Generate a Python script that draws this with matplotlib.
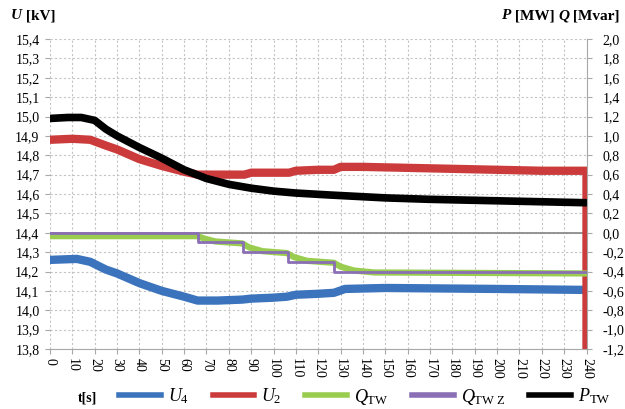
import numpy as np
import matplotlib
matplotlib.use('Agg')
import matplotlib.pyplot as plt
from matplotlib.ticker import FuncFormatter, MultipleLocator

plt.rcParams['font.family'] = ['Liberation Serif', 'DejaVu Serif']
plt.rcParams['mathtext.fontset'] = 'custom'
plt.rcParams['mathtext.rm'] = 'Liberation Serif'
plt.rcParams['mathtext.it'] = 'Liberation Serif:italic'
plt.rcParams['mathtext.bf'] = 'Liberation Serif:bold'

# U4 [kV] - left axis
t_u4 = [0, 12, 18, 25, 30, 40, 50, 60, 66, 75, 86, 90, 100, 106, 110, 120, 127, 132, 150, 200, 240]
u4 = [14.26, 14.265, 14.25, 14.21, 14.19, 14.14, 14.10, 14.07, 14.05, 14.05, 14.055, 14.06,
      14.065, 14.07, 14.08, 14.085, 14.09, 14.11, 14.115, 14.11, 14.105]

# U2 [kV] - left axis (last point drops to the bottom, as in the original)
t_u2 = [0, 10, 18, 25, 30, 40, 50, 60, 66, 80, 87, 90, 100, 107, 110, 120, 127, 130, 140, 160,
        180, 200, 220, 240, 240]
u2 = [14.88, 14.885, 14.88, 14.85, 14.83, 14.78, 14.745, 14.715, 14.70, 14.70, 14.70, 14.71,
      14.71, 14.71, 14.72, 14.725, 14.725, 14.74, 14.74, 14.735, 14.73, 14.725, 14.72, 14.72, 13.8]

# Q_TW [Mvar] - right axis
t_q = [0, 66, 69, 74, 86, 89, 95, 106, 109, 115, 127, 130, 136, 145, 240]
q_tw = [-0.035, -0.035, -0.06, -0.09, -0.11, -0.15, -0.19, -0.21, -0.25, -0.29, -0.31,
        -0.35, -0.39, -0.41, -0.42]

# Q_TW Z [Mvar] - set point steps
t_qz = [0, 66, 86.5, 106.5, 127, 240]
q_twz = [0.0, -0.1, -0.2, -0.3, -0.4, -0.4]

# P_TW [MW] - right axis
t_p = [0, 8, 14, 20, 25, 30, 40, 50, 60, 70, 80, 90, 100, 110, 125, 150, 170, 200, 240]
p_tw = [1.18, 1.19, 1.19, 1.16, 1.07, 1.0, 0.88, 0.77, 0.65, 0.56, 0.50, 0.46, 0.43, 0.41,
        0.39, 0.36, 0.345, 0.33, 0.31]

c_blue = '#3b73bd'
c_red = '#cc3b3b'
c_green = '#9acd4f'
c_purple = '#8a6fb5'
grid_c = '#c4c4c4'
axis_c = '#a8a8a8'

comma = FuncFormatter(lambda v, pos: f'{v:.1f}'.replace('.', ','))

fig = plt.figure(figsize=(6.25, 4.09), dpi=100)
ax = fig.add_axes([0.08, 0.1467, 0.8584, 0.7579])
ax2 = ax.twinx()

ax.set_xlim(0, 240)
ax.set_ylim(13.8, 15.4)
ax2.set_ylim(-1.2, 2.0)
ax.xaxis.set_major_locator(MultipleLocator(10))
ax.yaxis.set_major_locator(MultipleLocator(0.1))
ax2.yaxis.set_major_locator(MultipleLocator(0.2))
ax.yaxis.set_major_formatter(comma)
ax2.yaxis.set_major_formatter(comma)

ax.grid(True, color=grid_c, linestyle=(0, (2, 2)), linewidth=0.8)
ax.set_axisbelow(True)

for s in ['left', 'top', 'right']:
    ax.spines[s].set_visible(False)
ax.spines['bottom'].set_color(axis_c)
for s in ['left', 'top', 'bottom']:
    ax2.spines[s].set_visible(False)
ax2.spines['right'].set_color(axis_c)

ax.tick_params(axis='y', length=3.5, color=axis_c, pad=4, labelsize=10)
ax.tick_params(axis='x', length=3.5, color=axis_c, pad=3, labelsize=10, labelrotation=-90)
ax2.tick_params(axis='y', length=3.5, color=axis_c, pad=8, labelsize=10)

ax.axhline(14.4, color='#8c8c8c', linewidth=1.3, zorder=1)

l_u4, = ax.plot(t_u4, u4, color=c_blue, linewidth=6, solid_joinstyle='round')
l_u2, = ax.plot(t_u2, u2, color=c_red, linewidth=6, solid_joinstyle='round')
l_q, = ax2.plot(t_q, q_tw, color=c_green, linewidth=4.5)
l_qz, = ax2.plot(t_qz, q_twz, color=c_purple, linewidth=2, drawstyle='steps-post')
l_p, = ax2.plot(t_p, p_tw, color='black', linewidth=5.5, solid_joinstyle='round')

# axis titles
tu = fig.text(0.018, 0.962, 'U', fontsize=11, fontweight='bold', fontstyle='italic', va='center')
fig.text(0.036, 0.962, ' [kV]', fontsize=11, fontweight='bold', va='center')

tp = fig.text(0.802, 0.962, 'P', fontsize=11, fontweight='bold', fontstyle='italic', va='center')
a1 = ax.annotate(' [MW] ', xy=(1, 0), xycoords=tp, va='bottom', fontsize=11, fontweight='bold')
a2 = ax.annotate('Q', xy=(1, 0), xycoords=a1, va='bottom', fontsize=11, fontweight='bold',
                 fontstyle='italic')
ax.annotate(' [Mvar]', xy=(1, 0), xycoords=a2, va='bottom', fontsize=11, fontweight='bold')

fig.text(0.14, 0.027, 't[s]', fontsize=10, fontweight='bold', ha='center', va='center')

leg_lines = []
for ln in [l_u4, l_u2, l_q, l_qz, l_p]:
    h, = ax.plot([], [], color=ln.get_color(), linewidth=4)
    leg_lines.append(h)
fig.legend(leg_lines, [r'$U_4$', r'$U_2$', r'$Q_{\mathrm{TW}}$', r'$Q_{\mathrm{TW\ Z}}$',
                       r'$P_{\mathrm{TW}}$'],
           loc='center', bbox_to_anchor=(0.584, 0.03), ncol=5, frameon=False,
           fontsize=13, handlelength=2.3, handletextpad=0.4, columnspacing=1.3)

fig.savefig('out.png', dpi=100)
